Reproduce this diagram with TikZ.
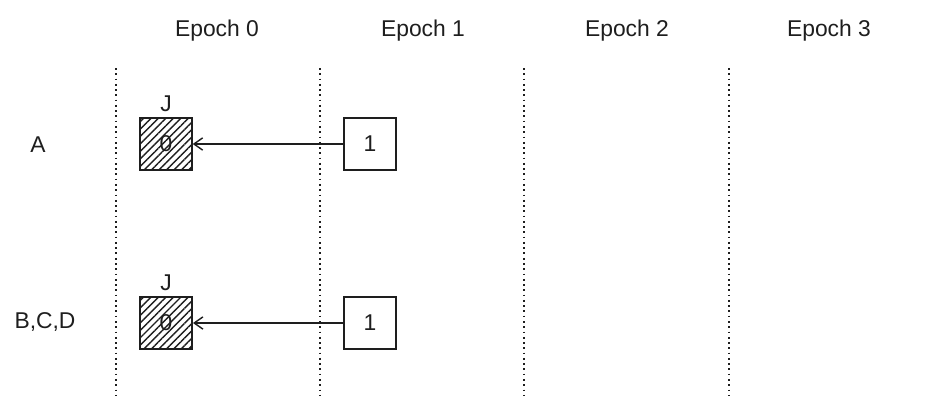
\documentclass[tikz,border=0pt]{standalone}
\usepackage{fontspec}
\setmainfont{Liberation Sans}
\usepackage{tikz}
\usepackage{xcolor}
\usetikzlibrary{arrows.meta, positioning, patterns.meta}
\definecolor{ink}{HTML}{1E1E1E}
\tikzset{
  font=\fontsize{13}{15}\selectfont,
  %
  slot/.style={
    draw=ink, line width=1.1pt, fill=white, minimum width=1.04cm,
    minimum height=1.04cm, inner sep=0pt, text=ink,
  },
  slotdone/.style={slot,
    pattern={Lines[angle=45, distance=3pt, line width=0.8pt]}, pattern color=ink},
  %
  flow/.style={draw=ink, line width=0.8pt, -{Straight Barb[length=5pt, width=7pt]}},
  divider/.style={draw=ink, line width=1pt, dotted},
  %
  lbl/.style={text=ink, inner sep=2pt},
}

\begin{document}
\begin{tikzpicture}[x=0.02cm, y=-0.02cm]
\useasboundingbox (0,0) rectangle (928,396);

% epoch headers and dividers
\foreach \i/\x in {0/217, 1/423, 2/627, 3/829} {
  \node[lbl] (epoch\i) at (\x,31) {Epoch \i};
}
\foreach \x in {116, 320, 524, 729} {
  \draw[divider] (\x,68) -- (\x,395);
}

% row A
\node[lbl] (rowa) at (38,145) {A};
\node[slotdone] (a0) at (166,144) {0};
\node[lbl, above=1pt of a0] (aj) {J};
\node[slot] (a1) at (370,144) {1};
\draw[flow] (a1) -- (a0);

% row B,C,D
\node[lbl] (rowb) at (45,322) {B,C,D};
\node[slotdone] (b0) at (166,323) {0};
\node[lbl, above=1pt of b0] (bj) {J};
\node[slot] (b1) at (370,323) {1};
\draw[flow] (b1) -- (b0);

\end{tikzpicture}
\end{document}
